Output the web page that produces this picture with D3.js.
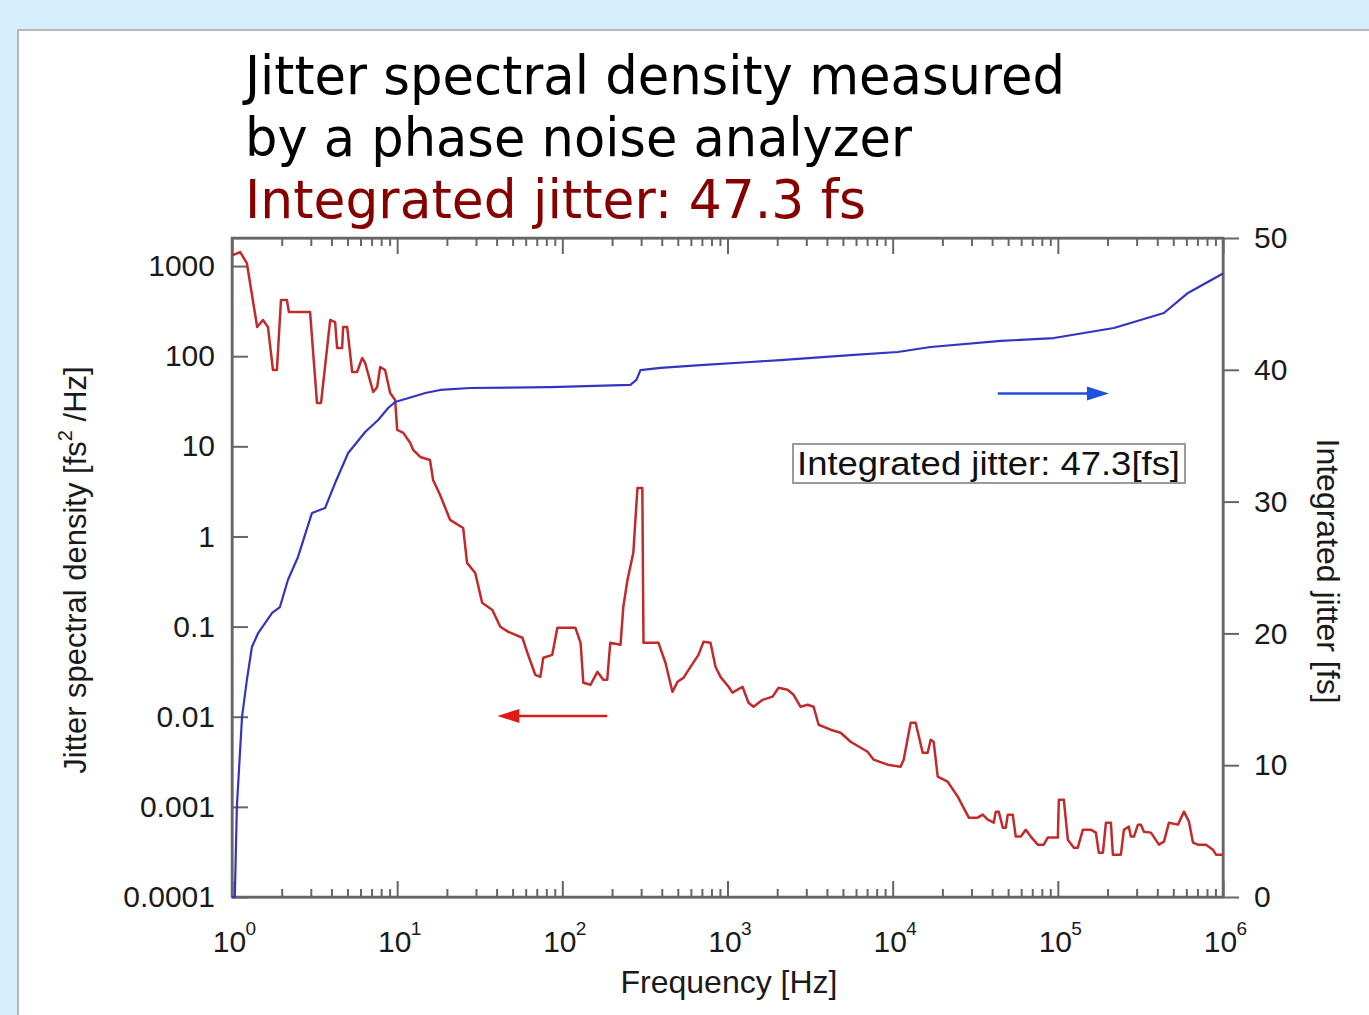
<!DOCTYPE html>
<html><head><meta charset="utf-8">
<script src="https://cdn.jsdelivr.net/npm/d3@7"></script>
<style>html,body{margin:0;padding:0;background:#d7eefc;} svg{display:block;}</style>
</head><body><svg id="c" width="1369" height="1015"></svg>
<script>
// ---------- data ----------
const freqPSD = [1.01,1.12,1.23,1.42,1.54,1.65,1.77,1.87,1.98,2.15,2.21,2.97,3.27,3.46,3.93,4.21,4.33,4.64,4.71,4.98,
 5.34,5.72,6.14,6.40,7.16,7.57,7.89,8.45,9.07,9.72,10.0,10.9,12.0,12.5,13.8,15.8,16.5,18.2,20.9,25.1,
 26.5,29.7,32.7,37.7,42.1,47.1,57.3,61.4,68.6,73.6,76.7,86.9,93.3,120,129,134,148,163,177,187,
 195,225,234,248,269,285,305,310,382,421,464,498,541,597,667,716,789,846,907,1015,
 1072,1233,1340,1438,1631,1875,2038,2311,2512,2770,3055,3321,3562,4209,4842,5561,7047,7670,9326,11170,
 11660,12850,13770,15200,16290,16990,17710,18740,21530,24770,28900,32730,35090,37670,40930,42090,43870,46450,48410,49770,
 53330,55620,59700,63970,68550,75620,82200,86920,100000,101400,108700,115000,125000,132100,141800,158500,169900,177100,187500,195500,
 209500,215400,240900,251200,269200,276700,289000,305500,318500,332100,366400,409300,438900,470900,533500,580400,622300,657900,705000,788500,
 869000,907800,1000000];
const psd = [1320,1430,1080,211,252,211,70.3,70.3,420,420,309,309,30.3,30.3,252,239,123,123,211,211,
 66.8,66.8,95.5,84.1,40.1,45.6,75.9,70.3,39.1,32.7,15.2,14.1,10.9,9.12,7.62,7.06,4.24,2.89,1.53,1.24,
 0.509,0.394,0.184,0.153,0.0995,0.0875,0.0752,0.0513,0.0292,0.0277,0.0451,0.0486,0.097,0.097,0.0661,0.0238,0.0226,0.0315,0.0257,0.0257,
 0.0661,0.0628,0.166,0.33,0.658,3.46,3.46,0.0661,0.0661,0.0397,0.0189,0.0244,0.027,0.0358,0.0486,0.0678,0.0661,0.0358,0.0277,0.0215,
 0.0185,0.0215,0.0143,0.0129,0.0154,0.0167,0.021,0.0199,0.0175,0.0129,0.0136,0.0129,0.00815,0.00718,0.00665,0.00528,0.00409,0.00334,0.00294,0.00279,
 0.00334,0.00857,0.00857,0.00399,0.00399,0.00556,0.00528,0.00216,0.0019,0.0013,0.000759,0.000759,0.00082,0.000721,0.000668,0.000885,0.000885,0.000588,0.000588,0.00082,
 0.00082,0.000468,0.000468,0.000558,0.000468,0.000381,0.000381,0.000456,0.000456,0.0012,0.0012,0.000433,0.000353,0.000353,0.000558,0.000558,0.000518,0.00031,0.00031,0.000668,
 0.000668,0.000295,0.000295,0.000558,0.000603,0.000468,0.000468,0.000635,0.000635,0.000531,0.000518,0.000381,0.000411,0.000668,0.000635,0.000885,0.000685,0.000401,0.000381,0.000381,
 0.000335,0.000295,0.000295];

const freqJitter = [1.0,1.04,1.07,1.15,1.23,1.32,1.44,1.75,1.95,2.18,2.51,3.05,3.66,4.21,5.05,6.40,7.67,8.82,9.72,12.3,
 14.8,18.2,27.7,84.6,258,281,297,393,686,1377,2094,5561,10720,16990,45180,94600,218400,438900,613800,1000000];
const jitter = [0,0,6.83,13.66,16.46,18.97,20.03,21.55,22.0,24.05,25.8,29.14,29.51,31.41,33.69,35.28,36.19,37.1,37.56,37.94,
 38.24,38.47,38.62,38.69,38.85,39.23,39.98,40.14,40.36,40.59,40.74,41.12,41.35,41.73,42.19,42.41,43.17,44.31,45.83,47.3];

const freqTicks = [1,10,100,1000,10000,100000,1000000];
const freqTickExp = ['0','1','2','3','4','5','6'];
const psdTicks = [0.0001,0.001,0.01,0.1,1,10,100,1000];
const psdTickLabels = ['0.0001','0.001','0.01','0.1','1','10','100','1000'];
const jitterTicks = [0,10,20,30,40,50];
const jitterTickLabels = ['0','10','20','30','40','50'];

const titleLines = ['Jitter spectral density measured','by a phase noise analyzer','Integrated jitter: 47.3 fs'];
const boxLabel = 'Integrated jitter: 47.3[fs]';

// ---------- drawing ----------
const svg = d3.select('#c');
svg.append('rect').attr('x',0).attr('y',0).attr('width',1369).attr('height',1015).attr('fill','#d7eefc');
svg.append('rect').attr('x',18).attr('y',30).attr('width',1370).attr('height',1010)
  .attr('fill','#ffffff').attr('stroke','#b8b8b8').attr('stroke-width',2);

const L=232,R=1223,T=238,B=897;
const x = d3.scaleLog().domain([1,1e6]).range([L,R]);
const yL = d3.scaleLog().domain([1e-4,2048]).range([B,T]);
const yR = d3.scaleLinear().domain([0,50]).range([B,T]);

const tickFont = 'Liberation Sans, Arial, Helvetica, sans-serif';
const axisColor = '#666';

// title
const titleFont = 'DejaVu Sans, Verdana, sans-serif';
const tl = [[94,820,'#000'],[156,667,'#000'],[218,621,'#870000']];
titleLines.forEach((t,i)=>{
  svg.append('text').attr('x',245).attr('y',tl[i][0]).attr('font-family',titleFont)
    .attr('font-size',54).attr('fill',tl[i][2])
    .attr('textLength',tl[i][1]).attr('lengthAdjust','spacingAndGlyphs').text(t);
});

function styleAxis(g){
  g.selectAll('path,line').attr('stroke',axisColor).attr('stroke-width',2);
  g.selectAll('text').attr('font-family',tickFont).attr('font-size',30).attr('fill','#1a1a1a');
}

const minor = [];
for(let k=0;k<6;k++) for(let m=2;m<=9;m++) minor.push(m*Math.pow(10,k));

// bottom axis
const gb = svg.append('g').attr('transform',`translate(0,${B})`)
  .call(d3.axisBottom(x).tickValues(freqTicks).tickSize(-16).tickSizeOuter(0).tickFormat(''));
styleAxis(gb);
const gbm = svg.append('g').attr('transform',`translate(0,${B})`)
  .call(d3.axisBottom(x).tickValues(minor).tickSize(-8).tickSizeOuter(0).tickFormat(''));
styleAxis(gbm); gbm.select('.domain').remove();
gb.selectAll('.tick').each(function(d,i){
  const g = d3.select(this);
  g.append('text').attr('x',-3).attr('y',55).attr('text-anchor','middle')
    .attr('font-family',tickFont).attr('font-size',30).attr('fill','#1a1a1a').text('10');
  g.append('text').attr('x',13).attr('y',38).attr('text-anchor','start')
    .attr('font-family',tickFont).attr('font-size',19).attr('fill','#1a1a1a').text(freqTickExp[i]);
});

// top axis
const gt = svg.append('g').attr('transform',`translate(0,${T})`)
  .call(d3.axisTop(x).tickValues(freqTicks).tickSize(-16).tickSizeOuter(0).tickFormat(''));
styleAxis(gt);
const gtm = svg.append('g').attr('transform',`translate(0,${T})`)
  .call(d3.axisTop(x).tickValues(minor).tickSize(-8).tickSizeOuter(0).tickFormat(''));
styleAxis(gtm); gtm.select('.domain').remove();

// left axis
const gl = svg.append('g').attr('transform',`translate(${L},0)`)
  .call(d3.axisLeft(yL).tickValues(psdTicks).tickSize(-16).tickSizeOuter(0).tickPadding(17)
    .tickFormat((d,i)=>psdTickLabels[i]));
styleAxis(gl);

// right axis
const gr = svg.append('g').attr('transform',`translate(${R},0)`)
  .call(d3.axisRight(yR).tickValues(jitterTicks).tickSize(16).tickSizeOuter(0).tickPadding(15)
    .tickFormat((d,i)=>jitterTickLabels[i]));
styleAxis(gr);

// frame
svg.append('rect').attr('x',L).attr('y',T).attr('width',R-L).attr('height',B-T)
  .attr('fill','none').attr('stroke',axisColor).attr('stroke-width',2.5);

// red PSD line
const redLine = d3.line().x((d,i)=>x(freqPSD[i])).y(d=>yL(d));
svg.append('path').datum(psd).attr('d',redLine).attr('fill','none')
  .attr('stroke','#c22a2c').attr('stroke-width',2.5).attr('stroke-linejoin','round');

// blue integrated jitter line
const blueLine = d3.line().x((d,i)=>x(freqJitter[i])).y(d=>yR(d));
svg.append('path').datum(jitter).attr('d',blueLine).attr('fill','none')
  .attr('stroke','#3434c4').attr('stroke-width',2.2).attr('stroke-linejoin','round');

// arrows
function arrow(x1,x2,y,color){
  const dir = Math.sign(x2-x1);
  svg.append('line').attr('x1',x1).attr('x2',x2-dir*14).attr('y1',y).attr('y2',y)
    .attr('stroke',color).attr('stroke-width',2.5);
  svg.append('path').attr('d',`M${x2},${y} L${x2-dir*22},${y-7} L${x2-dir*22},${y+7} Z`).attr('fill',color);
}
arrow(x(187), x(40.4), yL(0.0102), '#e01818');
arrow(x(43300), x(203900), yR(38.2), '#1f4fe0');

// label box
svg.append('rect').attr('x',793).attr('y',444).attr('width',392).attr('height',39)
  .attr('fill','#fff').attr('stroke','#9a9a9a').attr('stroke-width',2);
svg.append('text').attr('x',797).attr('y',475).attr('font-family',tickFont).attr('font-size',33)
  .attr('fill','#111').attr('textLength',383).attr('lengthAdjust','spacingAndGlyphs').text(boxLabel);

// axis titles
svg.append('text').attr('x',729).attr('y',993).attr('text-anchor','middle')
  .attr('font-family',tickFont).attr('font-size',32).attr('fill','#1a1a1a').text('Frequency [Hz]');
const ylt = svg.append('text').attr('transform','translate(86,570) rotate(-90)').attr('text-anchor','middle')
  .attr('font-family',tickFont).attr('font-size',31).attr('fill','#1a1a1a');
ylt.append('tspan').text('Jitter spectral density [fs');
ylt.append('tspan').attr('font-size',20).attr('dy',-14).text('2');
ylt.append('tspan').attr('dy',14).text(' /Hz]');
svg.append('text').attr('transform','translate(1317,571) rotate(90)').attr('text-anchor','middle')
  .attr('font-family',tickFont).attr('font-size',32).attr('fill','#1a1a1a').text('Integrated jitter [fs]');
</script></body></html>
